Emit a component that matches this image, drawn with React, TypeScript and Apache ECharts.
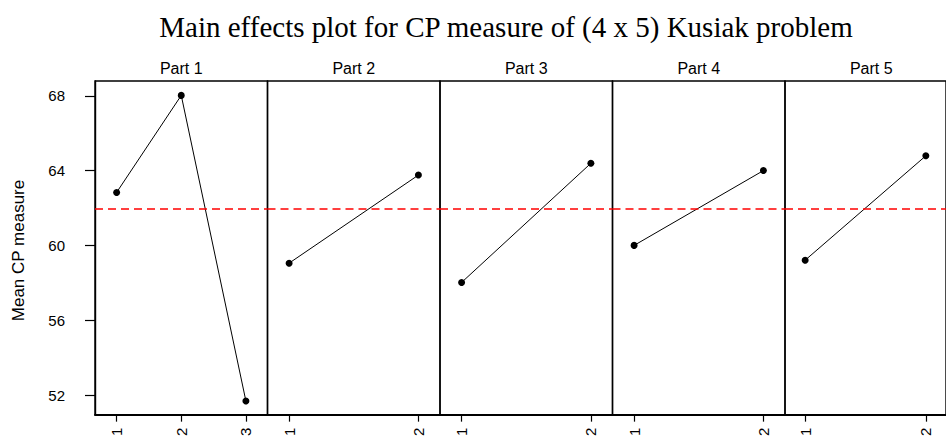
import React, { useEffect, useRef } from "react";
import * as echarts from "echarts";

const titleText = "Main effects plot for CP measure of (4 x 5) Kusiak problem";
const yAxisName = "Mean CP measure";
const panelNames = ["Part 1", "Part 2", "Part 3", "Part 4", "Part 5"];
const levelLabels = [
  ["1", "2", "3"],
  ["1", "2"],
  ["1", "2"],
  ["1", "2"],
  ["1", "2"],
];
const part1 = [62.83, 68.02, 51.68];
const part2 = [59.05, 63.76];
const part3 = [58.02, 64.39];
const part4 = [60.0, 64.0];
const part5 = [59.21, 64.79];
const panelValues = [part1, part2, part3, part4, part5];
const grandMean = 61.95;
const yTicks = [52, 56, 60, 64, 68];
const yMin = 50.95;
const yMax = 68.79;

export default function App() {
  const ref = useRef<HTMLDivElement>(null);
  useEffect(() => {
    if (!ref.current) return;
    const chart = echarts.init(ref.current, null, { renderer: "svg" });
    const gridLeft0 = 95;
    const gridW = 172.5;
    const gridTop = 81;
    const gridH = 339;
    const padPx = 21.6;
    const font = "Liberation Sans, Arial, sans-serif";

    const grids: any[] = [];
    const xAxes: any[] = [];
    const yAxes: any[] = [];
    const series: any[] = [];
    const graphics: any[] = [];

    panelValues.forEach((vals, i) => {
      const n = vals.length;
      const pad = ((n - 1) * padPx) / (gridW - 2 * padPx);
      const left = gridLeft0 + i * gridW;
      grids.push({
        left,
        top: gridTop,
        width: gridW,
        height: gridH,
        show: true,
        borderColor: "#000",
        borderWidth: 1.4,
        backgroundColor: "transparent",
      });
      const idx = vals.map((_, k) => k);
      xAxes.push({
        type: "value",
        gridIndex: i,
        min: -pad,
        max: n - 1 + pad,
        splitLine: { show: false },
        axisLine: { show: true, onZero: false, lineStyle: { color: "#000", width: 2 } },
        axisTick: {
          show: true,
          customValues: idx,
          length: 7,
          lineStyle: { color: "#000", width: 1.2 },
        },
        axisLabel: {
          show: true,
          customValues: idx,
          formatter: (v: number) => levelLabels[i][Math.round(v)] ?? "",
          rotate: 90,
          margin: 13,
          fontSize: 15,
          fontFamily: font,
          color: "#000",
        },
      });
      yAxes.push({
        type: "value",
        gridIndex: i,
        min: yMin,
        max: yMax,
        position: "left",
        splitLine: { show: false },
        axisLine: { show: i === 0, onZero: false, lineStyle: { color: "#000", width: 1.4 } },
        axisTick:
          i === 0
            ? { show: true, inside: false, customValues: yTicks, length: 10, lineStyle: { color: "#000", width: 1.2 } }
            : { show: false },
        axisLabel:
          i === 0
            ? {
                show: true,
                inside: false,
                customValues: yTicks,
                margin: 30,
                fontSize: 15,
                fontFamily: font,
                color: "#000",
              }
            : { show: false },
      });
      series.push({
        type: "line",
        xAxisIndex: i,
        yAxisIndex: i,
        data: vals.map((v, k) => [k, v]),
        symbol: "circle",
        symbolSize: 7,
        itemStyle: { color: "#000" },
        lineStyle: { color: "#000", width: 1 },
        z: 3,
        markLine: {
          silent: true,
          symbol: "none",
          label: { show: false },
          lineStyle: { color: "#ff0000", type: [8, 5], width: 1.5 },
          data: [{ yAxis: grandMean }],
        },
      });
      graphics.push({
        type: "text",
        x: left + gridW / 2,
        y: 68,
        style: {
          text: panelNames[i],
          fill: "#000",
          font: `16px ${font}`,
          textAlign: "center",
          textVerticalAlign: "middle",
        },
      });
    });

    graphics.push({
      type: "text",
      x: 18,
      y: (gridTop + gridTop + gridH) / 2,
      rotation: Math.PI / 2,
      style: {
        text: yAxisName,
        fill: "#000",
        font: `17px ${font}`,
        textAlign: "center",
        textVerticalAlign: "middle",
      },
    });

    chart.setOption({
      animation: false,
      backgroundColor: "#fff",
      title: {
        text: titleText,
        left: 501,
        textAlign: "center",
        top: 7,
        textStyle: {
          fontFamily: "Liberation Serif, Times New Roman, serif",
          fontSize: 29,
          fontWeight: "normal",
          color: "#000",
        },
      },
      grid: grids,
      xAxis: xAxes,
      yAxis: yAxes,
      series,
      graphic: graphics,
    });
    return () => chart.dispose();
  }, []);
  return (
    <div
      ref={ref}
      style={{ position: "fixed", left: 0, top: 0, width: 946, height: 439, background: "#fff" }}
    />
  );
}
